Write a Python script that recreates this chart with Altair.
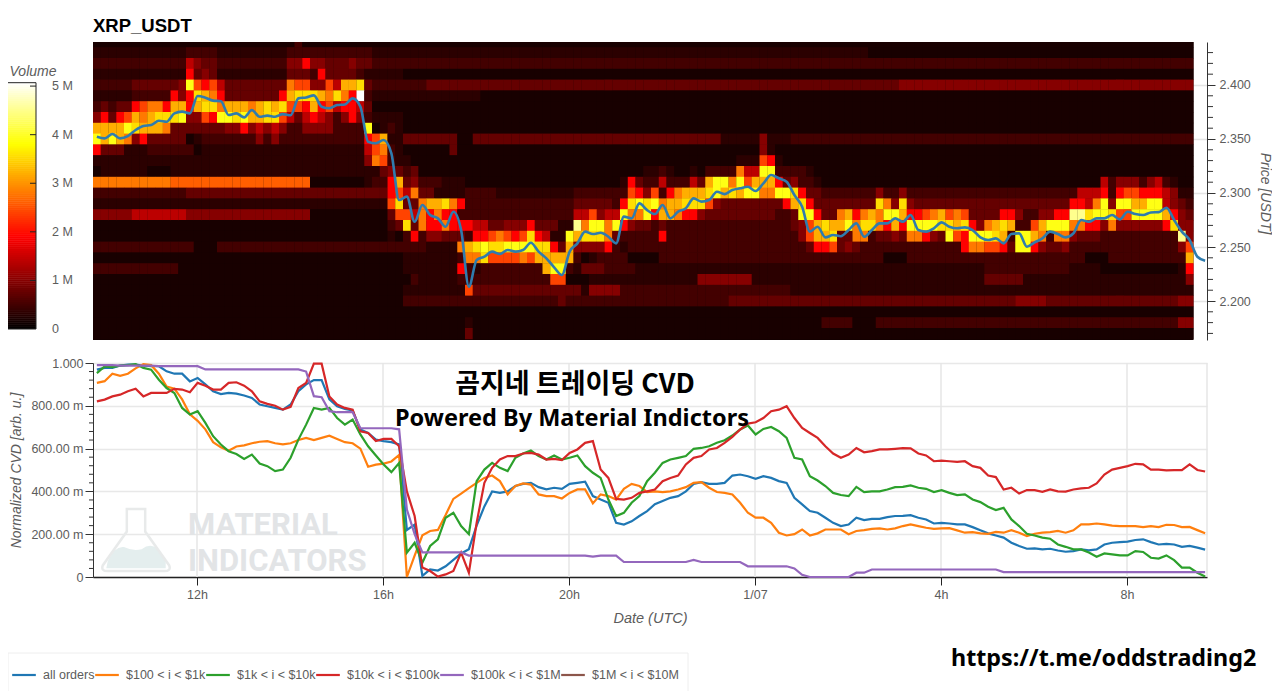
import altair as alt
import numpy as np
import pandas as pd

# ---------- heatmap: one string per price row, one level character per 10-minute column ----------
r244 = "1111111111 1111111111 1111113111 1111111111 1111111111 1111111111 1111111111 1111111111 1111111111 1111111111 1111111111 1111111111 1111111111 1111111111 11"
r243 = "2222222222 2233332222 2222233333 3333332222 2222222222 2222222222 2222222222 2222222222 2222222222 2222222222 1111111111 1111111111 1111111111 1111111111 11"
r242 = "3333333333 3365443333 3333355755 4445443333 3333333333 3333333333 3333333333 3333333333 3333333333 3333333333 3333333333 3333333333 3333333333 3333333333 33"
r241 = "2222222222 2274542222 2222244437 4444322222 1111111111 1111111111 1111111111 1111111111 1111111111 1111111111 1111111111 1111111111 1111111111 1111111111 11"
r240 = "3333344444 45c8786444 4444498855 86aab43333 3334444444 4444444444 4444444444 4444444444 4444444444 4444444444 4444555555 5555555555 5555555555 5555555555 55"
r239 = "2222233333 757ba97444 44447abbba 9b97e32222 2222222222 1111111111 1111111111 1111111111 1111111111 1111111111 1111111111 1111111111 1111111111 1111111111 11"
r238 = "3434478997 aa7abb9aaa 9abab887a7 8677641111 1111111111 1111111111 1111111111 1111111111 1111111111 1111111111 1111111111 1111111111 1111111111 1111111111 11"
r237 = "57478a9abb bc5587ccbc aabb864676 5357532222 1111111111 1111111111 1111111111 1111111111 1111111111 1111111111 1111111111 1111111111 1111111111 1111111111 11"
r236 = "aaaacbaaa9 4444444557 5656533555 53333c1232 1111111111 1111111111 1111111111 1111111111 1111111111 1111111111 1111111111 1111111111 1111111111 1111111111 11"
r235 = "caca957444 4412333333 3535333333 3333378a22 4444444114 4444444444 4444444444 4444444444 4222225222 3333333333 3333333333 3333333333 3333333333 3333333333 33"
r234 = "7444222333 3331222222 2222222222 2222268932 1111114111 1111111111 1111111111 1111111111 1111115211 1111111111 1111111111 1111111111 1111111111 1111111111 11"
r233 = "2222222222 2222222222 2222222222 2222259832 2111111111 1111111111 1111111111 1111111111 1112228721 1111111111 1111111111 1111111111 1111111111 1111111111 11"
r232 = "1222222111 2222222222 2222222222 2222222454 3411111111 1111111111 1111111111 1223211213 333966cc33 3321111111 1111111111 1111111111 1111111111 1111111111 11"
r231 = "9999999999 ffffffffff ffffffff11 111112337a 4533322211 1111111111 1111111127 433633364a cc9c8aaa74 5332111111 1111111111 1111111111 1111111111 6355535632 11"
r230 = "3333333333 3344444444 4444444444 4444444478 6944222233 3322222222 2233333338 758379aaab cabacc99cc b744333333 3533533333 3333333333 3333333666 7378877765 22"
r229 = "2222222222 2222222222 2222222222 222222228b 449aab9733 3333333333 334444437b cbc9aabbb8 5444444447 ab74444444 4b95b54444 4444444444 4444447769 c5ccaacc65 43"
r228 = "5555566666 6655555555 5555555511 1111111148 8697977333 3333333333 33668566c9 9c7aa97754 4444444433 4cc7449a79 a9cca7789a 8984444775 335577ddbc cb88cccca7 54"
r227 = "1111111111 1111111111 1111111111 1111111134 b497797776 6445557444 22d9cc9c75 4434333333 3333333333 458abaac9b b97a7ccccb bab759aba3 38accc9977 595555557b 55"
r226 = "1111111111 1111111111 1111111111 1111111121 3735544437 789878b762 2cabbb9433 3337333333 3333333333 358aab4499 3445499754 c87cccba3c ca93995444 3333333333 d5"
r225 = "3333333333 3331113333 3333333333 3333333333 33322229ab cbbccccbb7 4a55557323 3333333333 3333333333 3347784543 3333333333 337998874c c754453333 3333333333 58"
r224 = "1111111111 1111111111 1111111111 1111111111 2222222399 b888898aaa aa31233331 1113333333 3333333333 3333333333 3311133333 3333333333 3333333311 1333333333 3a"
r223 = "3333333333 3111111111 1111111111 1111111111 2222222732 33333333ac c324443333 2222222222 2222222222 2222222222 2222222222 2222233333 3333332222 1111111111 27"
r222 = "1111111111 1111111111 1111111111 1111111111 1322222333 3333333338 8111222222 2222222255 5555522222 2222222222 2222222222 2222244444 2222222222 2222222222 25"
r221 = "1111111111 1111111111 1111111111 1111111111 2222222284 4444444444 4442555533 3333333333 3333333333 2222222222 2222222222 2222222222 2222222222 2222222222 22"
r220 = "1111111111 1111111111 1111111111 1111111111 3333333333 3333333333 4333333333 3333333333 3344444444 4444444444 4444444444 4444444445 5554444444 4444444444 55"
r219 = "1111111111 1111111111 1111111111 1111111111 1111111111 1111111111 1111111111 1111111111 1111111111 1111111111 1111111111 1111111111 1111111111 1111111111 11"
r218 = "1111111111 1111111111 1111111111 1111111111 1111111121 1111111111 1111111111 1111111111 1111111111 1111333311 1333333333 3333333333 3333333333 3333333333 55"
r217 = "1111111111 1111111111 1111111111 1111111111 1111111141 1111111111 1111111111 1111111111 1111111111 1111111111 1111111111 1111111111 1111111111 1111111111 11"
heat_rows = [r244, r243, r242, r241, r240, r239, r238, r237, r236, r235, r234, r233, r232, r231,
             r230, r229, r228, r227, r226, r225, r224, r223, r222, r221, r220, r219, r218, r217]
heat_prices = [2.44, 2.43, 2.42, 2.41, 2.40, 2.39, 2.38, 2.37, 2.36, 2.35, 2.34, 2.33, 2.32, 2.31,
               2.30, 2.29, 2.28, 2.27, 2.26, 2.25, 2.24, 2.23, 2.22, 2.21, 2.20, 2.19, 2.18, 2.17]
levels = {"0": .05, "1": .18, "2": .32, "3": .5, "4": .75, "5": 1.0, "6": 1.4, "7": 1.9, "8": 2.4, "f": 2.6,
          "9": 2.8, "a": 3.2, "b": 3.55, "c": 3.9, "d": 4.5, "e": 5.07}

# ---------- price line (USDT), one per 10 minutes ----------
price = [2.3521,2.3506,2.3546,2.3506,2.3527,2.3583,2.3620,2.3629,2.3669,2.3660,2.3737,2.3753,2.3737,2.3898,2.3882,2.3855,2.3850,2.3722,2.3737,2.3700,
         2.3768,2.3706,2.3716,2.3706,2.3730,2.3720,2.3876,2.3885,2.3904,2.3799,2.3784,2.3814,2.3820,2.3876,2.3800,2.3475,2.3460,2.3490,2.3367,2.2935,
         2.2966,2.2734,2.2889,2.2796,2.2765,2.2688,2.2827,2.2657,2.2132,2.2379,2.2410,2.2457,2.2435,2.2472,2.2457,2.2472,2.2540,2.2457,2.2395,2.2312,
         2.2241,2.2457,2.2534,2.2642,2.2620,2.2632,2.2595,2.2534,2.2781,2.2765,2.2904,2.2842,2.2805,2.2889,2.2765,2.2827,2.2858,2.2950,2.2920,2.2935,
         2.3012,2.2990,2.3027,2.3043,2.3058,2.3018,2.3089,2.3166,2.3136,2.3105,2.2981,2.2873,2.2642,2.2688,2.2589,2.2611,2.2600,2.2657,2.2719,2.2595,
         2.2657,2.2719,2.2719,2.2765,2.2734,2.2796,2.2657,2.2642,2.2673,2.2728,2.2688,2.2673,2.2682,2.2657,2.2589,2.2565,2.2580,2.2534,2.2620,2.2626,
         2.2503,2.2543,2.2580,2.2642,2.2620,2.2589,2.2626,2.2750,2.2734,2.2765,2.2765,2.2796,2.2756,2.2827,2.2805,2.2796,2.2820,2.2823,2.2864,2.2750,
         2.2642,2.2565,2.2410,2.2373]

# ---------- normalized CVD series (thousandths), one per 10 minutes ----------
all_orders = [969,977,977,988,992,992,988,985,985,961,950,950,914,930,900,868,855,860,857,848,
              837,806,798,790,782,806,868,900,920,920,830,798,785,778,689,673,642,635,630,620,
              220,245,5,35,30,50,80,110,130,240,330,400,393,400,425,435,440,420,410,417,
              412,435,440,445,378,362,347,253,245,260,285,308,340,355,370,378,400,435,443,435,
              435,440,474,479,471,459,471,463,448,440,370,339,308,300,277,253,238,245,277,266,
              272,272,280,285,286,289,277,269,250,253,250,246,246,233,218,204,194,184,160,145,
              132,134,129,132,124,118,121,129,124,129,152,160,163,165,173,176,163,152,155,152,
              141,145,137,128]
o100_1k = [907,915,950,940,950,975,995,990,950,890,880,830,760,730,690,630,606,590,610,615,
           625,632,635,625,620,625,640,650,640,650,660,645,630,625,600,515,525,530,540,570,
           0,100,195,215,220,290,365,390,415,440,463,474,448,386,425,437,432,386,378,378,
           367,393,409,409,344,386,378,362,412,435,425,397,400,397,400,409,420,440,443,417,
           397,393,386,347,300,277,277,253,207,194,200,222,194,204,222,222,222,200,215,219,
           225,227,222,227,238,246,238,230,225,227,228,218,207,210,204,202,211,207,219,207,
           191,202,207,210,215,207,218,246,246,250,246,240,238,238,238,233,238,233,244,243,
           233,234,219,204]
o1k_10k = [953,984,981,988,990,995,977,969,922,883,860,790,759,775,720,658,619,588,575,552,
           572,530,518,495,502,557,642,712,790,782,790,743,712,736,666,611,568,526,490,533,
           114,160,67,145,176,277,300,238,200,448,502,533,510,495,557,577,591,565,549,568,
           549,557,568,518,487,463,362,285,300,347,378,448,487,533,549,557,565,599,603,611,
           627,639,661,689,708,666,692,701,681,650,557,549,471,451,425,393,383,378,421,397,
           400,400,409,420,421,428,417,412,397,406,393,383,386,362,350,328,313,323,269,238,
           202,194,184,179,152,141,129,129,114,95,110,106,101,101,121,117,90,86,101,79,
           44,44,20,2]
o10k_100k = [821,829,844,852,868,880,844,860,860,860,879,876,863,907,894,876,876,907,910,894,
             868,821,809,800,782,795,883,907,997,997,844,806,790,782,681,673,635,645,645,611,
             400,285,44,28,2,12,28,114,20,253,440,510,549,565,565,577,580,572,549,552,
             546,580,596,627,635,502,463,365,362,370,393,400,409,448,463,474,526,557,565,596,
             603,627,655,689,717,723,743,775,782,798,743,697,673,650,611,577,557,572,603,583,
             588,596,596,599,602,601,577,568,541,544,541,538,541,518,510,474,467,409,417,390,
             406,406,398,409,400,399,409,414,417,437,479,502,510,518,529,526,502,502,498,499,
             499,526,500,493]
o100k_1m = [990,990,990,988,988,988,988,988,985,985,985,985,985,985,970,970,970,970,970,970,
            970,970,970,970,970,970,970,960,845,840,775,770,770,770,695,695,695,695,695,690,
            315,200,115,115,115,115,115,115,100,100,100,100,100,100,100,100,100,100,100,100,
            100,100,100,100,95,100,100,100,70,70,70,70,70,70,70,70,70,80,70,70,
            70,70,70,70,50,50,50,50,50,50,40,10,0,0,0,0,0,0,20,20,
            35,35,35,35,35,35,35,35,35,35,35,35,35,35,35,35,35,23,23,23,
            23,23,23,23,23,23,23,23,23,23,23,23,23,23,23,23,23,23,23,23,
            23,23,23,23]

series_names = ["all orders", "$100 < i < $1k", "$1k < i < $10k", "$10k < i < $100k", "$100k < i < $1M", "$1M < i < $10M"]
series_colors = ["#1f77b4", "#ff7f0e", "#2ca02c", "#d62728", "#9467bd", "#8c564b"]
series_values = [all_orders, o100_1k, o1k_10k, o10k_100k, o100k_1m]

price_major = [2.20, 2.25, 2.30, 2.35, 2.40]
price_minor = [2.17, 2.18, 2.19, 2.21, 2.22, 2.23, 2.24, 2.26, 2.27, 2.28, 2.29, 2.31, 2.32, 2.33, 2.34,
               2.36, 2.37, 2.38, 2.39, 2.41, 2.42, 2.43]
cvd_major = [0, .2, .4, .6, .8, 1.0]
cvd_minor = [.04, .08, .12, .16, .24, .28, .32, .36, .44, .48, .52, .56, .64, .68, .72, .76, .84, .88, .92, .96]
hour_ticks = [12, 16, 20, 24, 28, 32]      # clock hours counted from midnight of 30 June
volume_ticks = [0, 1, 2, 3, 4, 5]
volume_labels = ["0", "1 M", "2 M", "3 M", "4 M", "5 M"]

# ---------- tables ----------
T0 = int(pd.Timestamp("2025-06-30T12:00:00Z").timestamp() * 1000)
def ms(h):
    return T0 + h * 3600e3
START_H = -104 / 46.5          # left edge of the time axis, hours from 12h
END_H = 1010 / 46.5
X_DOMAIN = [ms(START_H), ms(END_H)]
P_TOP, P_BOT = 2.4398, 2.1639

cells = []
for p, row in zip(heat_prices, heat_rows):
    s = row.replace(" ", "")
    for c, ch in enumerate(s):
        cells.append({"t0": ms(START_H + c / 6), "t1": ms(START_H + (c + 1) / 6 + (0.004 if c < 141 else 0)),
                      "p0": p - .0054, "p1": min(p + .005, P_TOP), "v": levels[ch]})
heat_df = pd.DataFrame(cells)

centres = [ms(START_H + (i + .5) / 6) for i in range(144)]
price_df = pd.DataFrame({"t": centres[:len(price)], "p": price[:144]})
cvd_df = pd.DataFrame([{"t": centres[i], "v": v / 1000, "s": n}
                       for n, vals in zip(series_names, series_values) for i, v in enumerate(vals)])

# ---------- scales ----------
H = 535
xs = alt.Scale(type="utc", domain=X_DOMAIN)
ys_top = alt.Scale(domain=[P_BOT, P_TOP], range=[298, 0], zero=False, nice=False)
ys_cvd = alt.Scale(domain=[0, 1], range=[535, 321], zero=False, nice=False)
ys_bar = alt.Scale(domain=[0, 5.07], range=[287, 40.7], zero=False, nice=False)
fill_scale = alt.Scale(domain=[0, 1.9, 3.8, 5.07], range=["#000000", "#ff0000", "#ffff00", "#ffffff"], interpolate="rgb")
GREY = "#5c5c5c"
FONT = "Liberation Sans"

def note(text, x, y, size, weight="normal", font=FONT, color="#000000", align="left", style="normal", angle=0):
    return alt.Chart(pd.DataFrame({"t": [text]})).mark_text(
        font=font, fontSize=size, fontWeight=weight, color=color, align=align, baseline="middle",
        fontStyle=style, angle=angle
    ).encode(x=alt.value(x), y=alt.value(y), text="t:N")

def vrule(df, field, scale, x0, x1, color="#333333", w=1):
    return alt.Chart(df).mark_rule(color=color, strokeWidth=w, clip=False).encode(
        x=alt.value(x0), x2=alt.value(x1), y=alt.Y(field, scale=scale, axis=None))

# ---------- top panel ----------
top_axis_layer = alt.Chart(pd.DataFrame({"p": price_major})).mark_rule(opacity=0).encode(
    y=alt.Y("p:Q", scale=ys_top, axis=alt.Axis(
        orient="right", values=price_major, format=".3f", grid=True, gridColor="#e4e4e4", gridWidth=1.5,
        domainColor="#333333", tickColor="#333333", tickSize=8, labelFontSize=12.5, labelColor=GREY, labelFont=FONT,
        labelPadding=4, title="Price [USDT]", titleAngle=90, titleFontStyle="italic", titleFontWeight="normal",
        titleFontSize=14, titleColor=GREY, titleFont=FONT, titleX=57, titleY=151, titleAlign="center", titleBaseline="middle")))
heat_bg = alt.Chart(pd.DataFrame({"a": [0]})).mark_rect(color="#140000").encode(
    x=alt.value(0), x2=alt.value(1100.5), y=alt.value(0), y2=alt.value(298))
heat = alt.Chart(heat_df).mark_rect().encode(
    x=alt.X("t0:T", scale=xs, axis=None), x2="t1:T",
    y=alt.Y("p0:Q", scale=ys_top, axis=None), y2="p1:Q",
    fill=alt.Fill("v:Q", scale=fill_scale, legend=None))
price_line = alt.Chart(price_df).mark_line(color="#2f7cae", strokeWidth=2.6, interpolate="monotone").encode(
    x=alt.X("t:T", scale=xs, axis=None), y=alt.Y("p:Q", scale=ys_top, axis=None))
top_minor = vrule(pd.DataFrame({"p": price_minor}), "p:Q", ys_top, 1114, 1120)

# ---------- colour bar ----------
bar_edges = np.linspace(0, 5.07, 121)
bar_df = pd.DataFrame({"a": bar_edges[:-1], "b": bar_edges[1:] + .01, "v": (bar_edges[:-1] + bar_edges[1:]) / 2})
bar = alt.Chart(bar_df).mark_rect().encode(
    x=alt.value(-86), x2=alt.value(-57),
    y=alt.Y("a:Q", scale=ys_bar, axis=None), y2="b:Q",
    fill=alt.Fill("v:Q", scale=fill_scale, legend=None))
bar_frame = alt.Chart(pd.DataFrame({"a": [0]})).mark_rect(fill=None, stroke="#222222", strokeWidth=1).encode(
    x=alt.value(-86), x2=alt.value(-57), y=alt.value(40.7), y2=alt.value(287))
tick_df = pd.DataFrame({"v": volume_ticks, "l": volume_labels})
bar_ticks = vrule(tick_df[tick_df.v > 0], "v:Q", ys_bar, -63, -57, "#222222")
bar_labels = alt.Chart(tick_df).mark_text(align="left", baseline="middle", font=FONT, fontSize=12.5, color=GREY).encode(
    x=alt.value(-41), y=alt.Y("v:Q", scale=ys_bar, axis=None), text="l:N")

# ---------- bottom panel ----------
bottom_y_axis = alt.Chart(pd.DataFrame({"v": cvd_major})).mark_rule(opacity=0).encode(
    y=alt.Y("v:Q", scale=ys_cvd, axis=alt.Axis(
        orient="left", values=cvd_major, grid=True, gridColor="#e8e8e8", gridWidth=1.5,
        labelExpr="datum.value==1 ? '1.000' : datum.value==0 ? '0' : format(datum.value*1000,'.2f')+' m'",
        domainColor="#333333", tickColor="#333333", tickSize=8, labelFontSize=12.5, labelColor=GREY, labelFont=FONT,
        title="Normalized CVD [arb. u.]", titleAngle=-90, titleFontStyle="italic", titleFontWeight="normal",
        titleFontSize=14, titleColor=GREY, titleFont=FONT, titleX=-77, titleY=428, titleAlign="center", titleBaseline="middle")))
x_grid = alt.Chart(pd.DataFrame({"t": [ms(h - 12) for h in hour_ticks] + [ms(END_H)]})).mark_rule(
    color="#e6e6e6", strokeWidth=1.5).encode(
    x=alt.X("t:T", scale=xs, axis=alt.Axis(
        orient="bottom", values=[ms(h - 12) for h in hour_ticks], grid=False,
        labelExpr="utchours(datum.value)==0 ? '1/07' : utchours(datum.value)+'h'",
        domainColor="#222222", domainWidth=1.5, tickColor="#222222", tickSize=8, labelFontSize=12.5, labelColor=GREY,
        labelFont=FONT, labelPadding=3, labelFlush=False, title="Date (UTC)", titleFontStyle="italic", titleFontWeight="normal",
        titleFontSize=14.5, titleColor=GREY, titleFont=FONT, titleX=557, titleY=41, titleAlign="center", titleBaseline="middle")),
    y=alt.value(321), y2=alt.value(535))
bottom_minor = vrule(pd.DataFrame({"v": cvd_minor}), "v:Q", ys_cvd, -4, 0)

flask_outline = alt.Chart(pd.DataFrame({"a": [0]})).mark_point(
    shape="M-.13,-.44 L.13,-.44 L.13,-.12 L.47,.36 Q.5,.44 .4,.44 L-.4,.44 Q-.5,.44 -.47,.36 L-.13,-.12 Z",
    size=20000, filled=False, stroke="#e8eaea", strokeWidth=2.5, opacity=1).encode(x=alt.value(43), y=alt.value(498))
flask_liquid = alt.Chart(pd.DataFrame({"a": [0]})).mark_point(
    shape="M-.42,.4 L-.4,.3 Q-.3,.08 -.17,.1 Q-.05,.16 .08,.13 Q.2,.04 .3,.12 L.42,.3 L.42,.4 Z",
    size=20000, filled=True, fill="#e4eeee", stroke=None, opacity=1).encode(x=alt.value(43), y=alt.value(498))
wm1 = note("MATERIAL", 95, 484, 31, "bold", "Roboto", "#e2e4e6")
wm2 = note("INDICATORS", 95, 520, 31, "bold", "Roboto", "#e2e4e6")

cvd_lines = alt.Chart(cvd_df).mark_line(strokeWidth=2.2).encode(
    x=alt.X("t:T", scale=xs, axis=None),
    y=alt.Y("v:Q", scale=ys_cvd, axis=None),
    stroke=alt.Stroke("s:N", scale=alt.Scale(domain=series_names, range=series_colors), sort=series_names,
                      legend=alt.Legend(orient="none", legendX=-82, legendY=620, direction="horizontal", columns=6,
                                        title=None, symbolType="stroke", symbolSize=560, symbolStrokeWidth=2.2,
                                        labelFont=FONT, labelFontSize=12.5, labelColor=GREY, labelOffset=6,
                                        columnPadding=-5, gridAlign="none", padding=0)))
legend_box = alt.Chart(pd.DataFrame({"a": [0]})).mark_rect(fill="#ffffff", stroke="#eeeeee").encode(
    x=alt.value(-85), x2=alt.value(595), y=alt.value(611), y2=alt.value(660))

chart = alt.layer(
    top_axis_layer, heat_bg, heat, price_line, top_minor,
    bar, bar_frame, bar_ticks, bar_labels,
    bottom_y_axis, x_grid, bottom_minor, flask_liquid, flask_outline, wm1, wm2,
    legend_box, cvd_lines,
    note("XRP_USDT", 0, -16, 18.5, "bold"),
    note("Volume", -60, 30, 14, "normal", FONT, GREY, "center", "italic"),
    note("곰지네 트레이딩 CVD", 482, 343, 27, "bold", "Noto Sans CJK KR", "#000000", "center"),
    note("Powered By Material Indictors", 479, 377, 23.5, "bold", "Noto Sans", "#000000", "center"),
    note("https://t.me/oddstrading2", 858, 617, 23.3, "bold", "Noto Sans"),
).resolve_scale(y="independent").resolve_axis(x="independent").properties(
    width=1114, height=H,
    autosize=alt.AutoSizeParams(type="none"),
    padding={"left": 85, "top": 34, "right": 65, "bottom": 114},
).configure_view(stroke=None)

chart.save("out.html", embed_options={"renderer": "svg", "actions": False})
